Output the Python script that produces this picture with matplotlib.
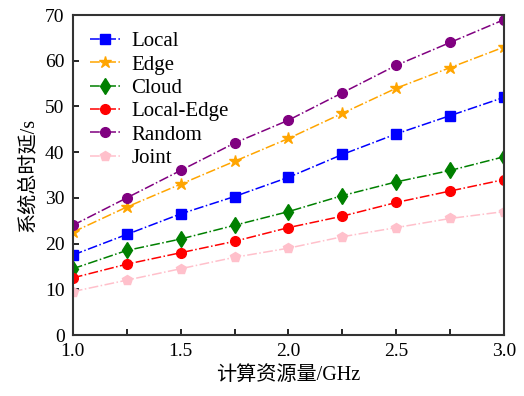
import numpy as np
import matplotlib.pyplot as plt

plt.rcParams['font.family'] = ['Liberation Serif', 'Noto Sans CJK SC']

freq = [1.0, 1.25, 1.5, 1.75, 2.0, 2.25, 2.5, 2.75, 3.0]
local = [17.5, 22, 26.5, 30.3, 34.5, 39.5, 44, 48, 52]
edge = [22.5, 28, 33, 38, 43, 48.5, 54, 58.5, 63]
cloud = [14.5, 18.5, 21, 24, 27, 30.5, 33.5, 36, 39]
local_edge = [12.5, 15.5, 18, 20.5, 23.5, 26, 29, 31.5, 34]
random_ = [24, 30, 36, 42, 47, 53, 59, 64, 69]
joint = [9.5, 12, 14.5, 17, 19, 21.5, 23.5, 25.5, 27]

series = [
    ('Local', local, 'blue', 's', 6.5),
    ('Edge', edge, 'orange', '*', 9),
    ('Cloud', cloud, 'green', 'd', 8),
    ('Local-Edge', local_edge, 'red', 'o', 7),
    ('Random', random_, 'purple', 'o', 7),
    ('Joint', joint, 'pink', 'p', 7),
]

fig = plt.figure(figsize=(5.24, 3.96), dpi=100)
ax = fig.add_axes([0.139, 0.154, 0.823, 0.808])

for name, vals, color, marker, ms in series:
    ax.plot(freq, vals, linestyle='-.', color=color, marker=marker,
            markersize=ms, linewidth=1.1, label=name)

ax.set_xlim(1.0, 3.0)
ax.set_ylim(0, 70)
ax.set_xticks(np.arange(1.0, 3.01, 0.5))
ax.set_xticklabels(['1.0', '1.5', '2.0', '2.5', '3.0'])
ax.set_xticks(np.arange(1.0, 3.01, 0.25), minor=True)
ax.set_yticks(np.arange(0, 71, 10))
ax.tick_params(direction='in', labelsize=14, width=1.2, length=4, which='both')
ax.tick_params(axis='x', which='both', pad=6)
ax.tick_params(axis='y', pad=6)
for sp in ax.spines.values():
    sp.set_color('#333333')
    sp.set_linewidth(1.5)

ax.set_xlabel('计算资源量/GHz', fontsize=14.5, labelpad=4)
ax.set_ylabel('系统总时延/s', fontsize=14.5, labelpad=5)
ax.legend(loc='upper left', frameon=False, fontsize=15, handlelength=1.5,
          handletextpad=0.5, labelspacing=0.18, borderaxespad=0.4)

fig.savefig('out.png', dpi=100)
